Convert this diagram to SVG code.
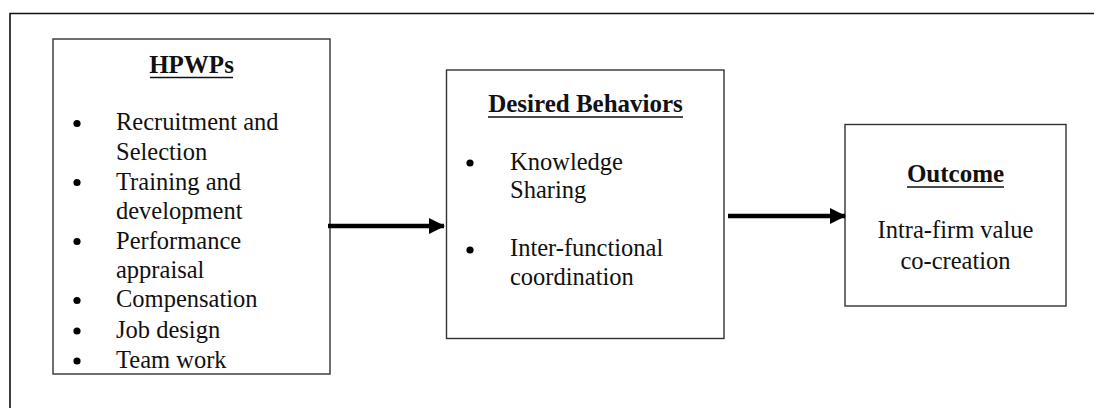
<svg xmlns="http://www.w3.org/2000/svg" width="1094" height="408" viewBox="0 0 1094 408">
<style>
.box{fill:#fff;stroke:#333;stroke-width:1.4}
.t{font-family:"Liberation Serif","Times New Roman",serif;font-size:24.5px;fill:#111}
.h{font-family:"Liberation Serif","Times New Roman",serif;font-size:25px;font-weight:bold;fill:#111}
.ul{stroke:#111;stroke-width:1.6}
.conn{stroke:#000;stroke-width:4.5;fill:none}
</style>
<defs>
<marker id="ah" markerUnits="userSpaceOnUse" markerWidth="16" markerHeight="16" refX="15" refY="8" orient="auto">
<path d="M0,0 L16,8 L0,16 Z" fill="#000"/>
</marker>
</defs>
<rect width="1094" height="408" fill="#fff"/>
<g id="frame">
<path d="M10,408 V13.5 H1094" fill="none" stroke="#111" stroke-width="1.6"/>
</g>
<g id="hpwps">
<rect class="box" x="53" y="39" width="277" height="335"/>
<text class="h" x="191.5" y="72.5" text-anchor="middle">HPWPs</text>
<line class="ul" x1="150" y1="77.5" x2="233" y2="77.5"/>
<g fill="#000">
<circle cx="77" cy="123.5" r="3.6"/>
<circle cx="77" cy="182.5" r="3.6"/>
<circle cx="77" cy="241.5" r="3.6"/>
<circle cx="77" cy="300.5" r="3.6"/>
<circle cx="77" cy="331" r="3.6"/>
<circle cx="77" cy="361" r="3.6"/>
</g>
<text class="t" x="116" y="130">Recruitment and</text>
<text class="t" x="116" y="159.5">Selection</text>
<text class="t" x="116" y="189.5">Training and</text>
<text class="t" x="116" y="218.5">development</text>
<text class="t" x="116" y="248.5">Performance</text>
<text class="t" x="116" y="277.5">appraisal</text>
<text class="t" x="116" y="307">Compensation</text>
<text class="t" x="116" y="337.5">Job design</text>
<text class="t" x="116" y="367.5">Team work</text>
</g>
<g id="behaviors">
<rect class="box" x="446.5" y="70" width="277.5" height="268.5"/>
<text class="h" x="585.5" y="111.5" text-anchor="middle">Desired Behaviors</text>
<line class="ul" x1="488" y1="117" x2="683" y2="117"/>
<g fill="#000">
<circle cx="470" cy="163" r="3.6"/>
<circle cx="470" cy="250" r="3.6"/>
</g>
<text class="t" x="510" y="169.5">Knowledge</text>
<text class="t" x="510" y="198">Sharing</text>
<text class="t" x="510" y="256">Inter-functional</text>
<text class="t" x="510" y="285">coordination</text>
</g>
<g id="outcome">
<rect class="box" x="845" y="124.5" width="221" height="181.5"/>
<text class="h" x="955.5" y="181.5" text-anchor="middle">Outcome</text>
<line class="ul" x1="907" y1="187" x2="1004" y2="187"/>
<text class="t" x="955.5" y="237.5" text-anchor="middle">Intra-firm value</text>
<text class="t" x="955.5" y="268.5" text-anchor="middle">co-creation</text>
</g>
<g id="connectors">
<line class="conn" x1="328" y1="226" x2="444" y2="226" marker-end="url(#ah)"/>
<line class="conn" x1="728" y1="216" x2="845" y2="216" marker-end="url(#ah)"/>
</g>
</svg>
